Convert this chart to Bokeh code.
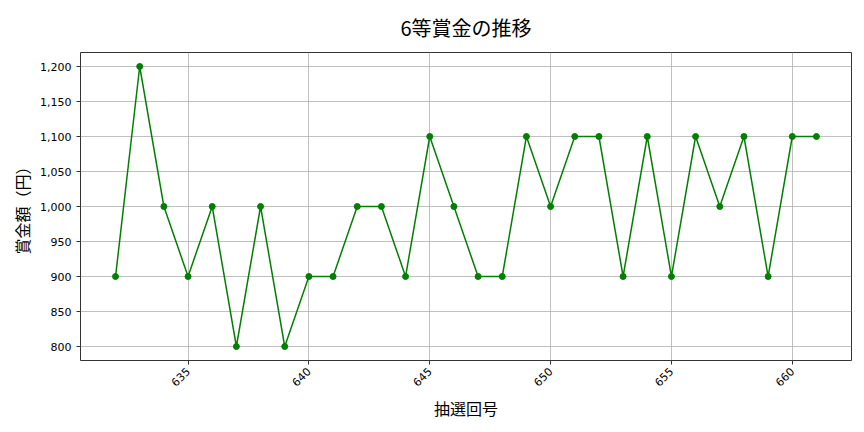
from bokeh.plotting import figure
from bokeh.embed import file_html
from bokeh.resources import INLINE
from bokeh.models import Range1d, NumeralTickFormatter, FixedTicker
import math

draws = list(range(632, 662))
prizes = [900, 1200, 1000, 900, 1000, 800, 1000, 800, 900, 900,
          1000, 1000, 900, 1100, 1000, 900, 900, 1100, 1000, 1100,
          1100, 900, 1100, 900, 1100, 1000, 1100, 900, 1100, 1100]
x_ticks = [635, 640, 645, 650, 655, 660]
y_ticks = [800, 850, 900, 950, 1000, 1050, 1100, 1150, 1200]

FONT = "Noto Sans CJK JP"
TICK_FONT = "DejaVu Sans"

p = figure(width=856, height=424, output_backend="svg", toolbar_location=None,
           x_range=Range1d(630.55, 662.45), y_range=Range1d(780, 1220),
           min_border_left=80, min_border_right=5, min_border_top=52, min_border_bottom=64)

p.title.text = "6等賞金の推移"
p.title.align = "center"
p.title.vertical_align = "middle"
p.title.text_font = FONT
p.title.text_font_size = "20px"
p.title.text_font_style = "normal"
p.title.text_color = "#000000"
p.title.standoff = 19

p.line(draws, prizes, line_color="#008000", line_width=1.5)
p.scatter(draws, prizes, size=6, fill_color="#008000", line_color="#008000")

p.xaxis.ticker = FixedTicker(ticks=x_ticks)
p.yaxis.ticker = FixedTicker(ticks=y_ticks)
p.yaxis.formatter = NumeralTickFormatter(format="0,0")
p.xaxis.major_label_orientation = math.pi / 4

for ax in (p.xaxis, p.yaxis):
    ax.major_tick_in = 0
    ax.major_tick_out = 4
    ax.minor_tick_line_color = None
    ax.major_label_text_font = TICK_FONT
    ax.major_label_text_font_size = "11px"
    ax.major_label_text_color = "#000000"
    ax.axis_label_text_font = FONT
    ax.axis_label_text_font_size = "16px"
    ax.axis_label_text_font_style = "normal"
    ax.axis_label_text_color = "#000000"
    ax.axis_line_color = None
    ax.major_tick_line_color = "#333333"

p.xaxis.axis_label = "抽選回号"
p.xaxis.axis_label_standoff = 3
p.yaxis.axis_label = "賞金額（円）"
p.yaxis.axis_label_standoff = 3

p.outline_line_color = "#333333"
p.outline_line_width = 1
p.grid.grid_line_color = "#b0b0b0"
p.grid.grid_line_width = 0.8

open("out.html", "w").write(file_html(p, INLINE))
